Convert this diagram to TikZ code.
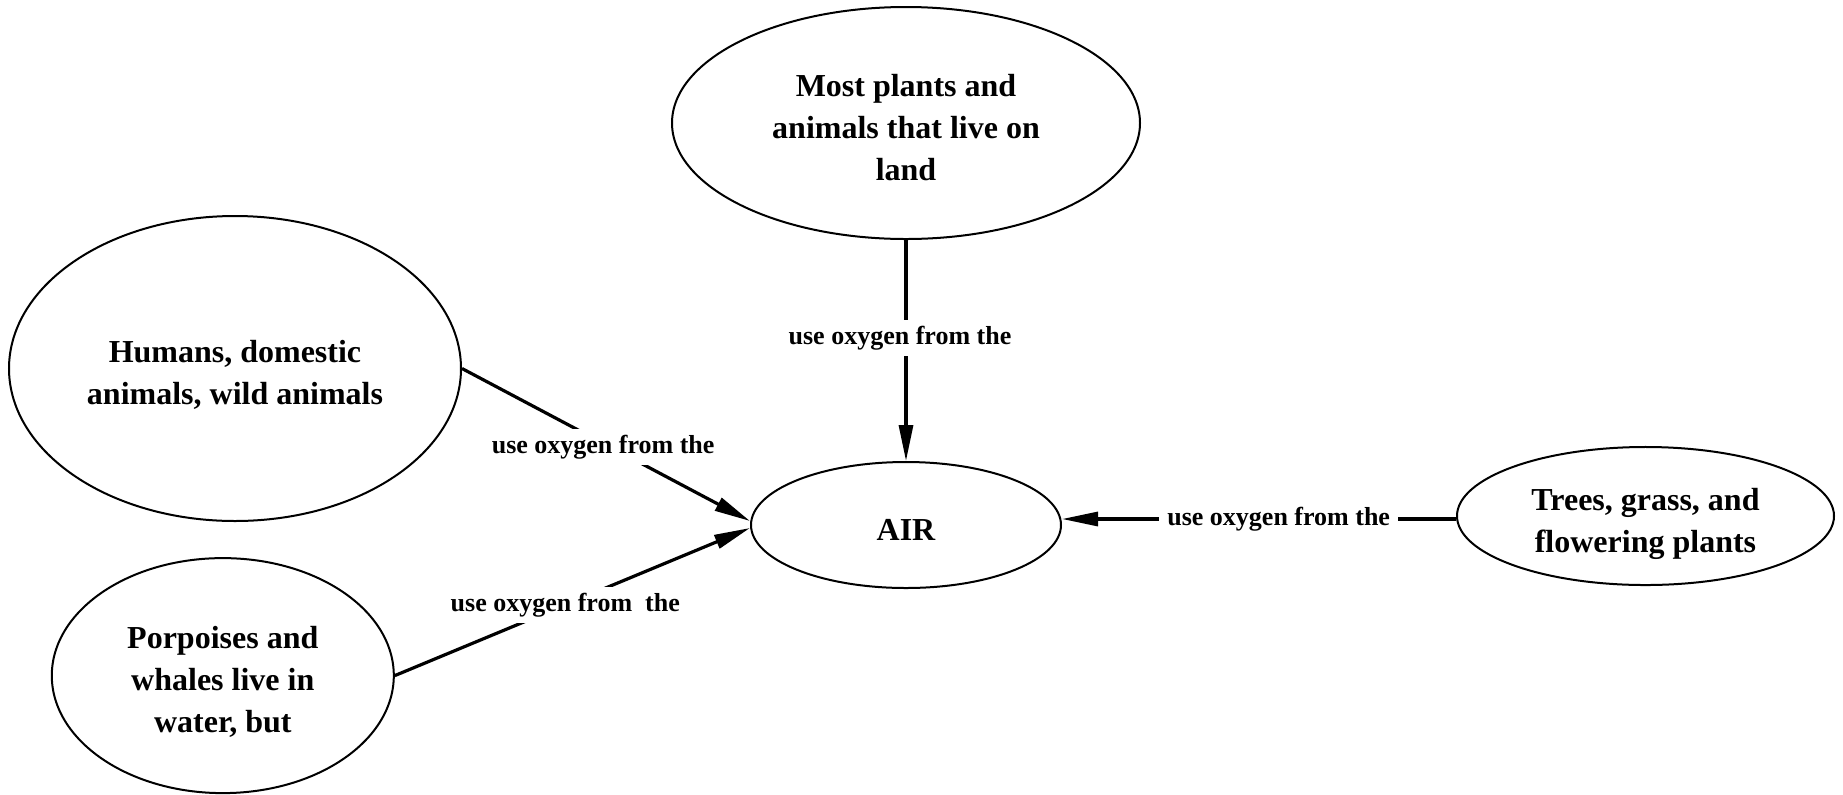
\documentclass[tikz,border=0pt]{standalone}
\usepackage{fontspec}
\setmainfont{Liberation Serif}
\usetikzlibrary{arrows.meta,shapes.geometric}
\newcommand\ctxt[1]{\begin{tabular}{@{}c@{}}\rule{0pt}{21.5pt}#1\end{tabular}}
\begin{document}
\begin{tikzpicture}[x=0.5pt,y=-0.5pt,
  concept/.style={ellipse, draw, line width=1pt, inner sep=0pt,
    font=\fontsize{16}{21}\selectfont\bfseries},
  link/.style={line width=1.6pt, -{Triangle[length=18pt,width=7pt]}},
  lbl/.style={fill=white, inner xsep=4pt, inner ysep=3pt,
    font=\fontsize{13}{15}\selectfont\bfseries}]
\useasboundingbox (0,0) rectangle (1843,794);

\node[concept, minimum width=234pt, minimum height=116pt] (land) at (906,123)
  {\ctxt{Most plants and\\animals that live on\\land}};
\node[concept, minimum width=226pt, minimum height=152.5pt] (humans) at (235,368.5)
  {\ctxt{Humans, domestic\\animals, wild animals}};
\node[concept, minimum width=171pt, minimum height=117.5pt] (porp) at (222.8,675.6)
  {\ctxt{Porpoises and\\whales live in\\water, but}};
\node[concept, minimum width=155pt, minimum height=63pt] (air) at (906,525)
  {\ctxt{AIR}};
\node[concept, minimum width=188.5pt, minimum height=67.5pt] (trees) at (1645.5,516)
  {\ctxt{Trees, grass, and\\flowering plants}};
\coordinate (tstart) at ([yshift=-1.5pt]trees.west);

\draw[link] (land.south) -- node[lbl, pos=0.43, xshift=-3pt, yshift=-1.5pt] {use oxygen from the} (air.north);
\draw[link] (humans.east) -- node[lbl, pos=0.49, yshift=-2pt] {use oxygen from the} ([yshift=2pt]air.west);
\draw[link] (porp.east) -- node[lbl, pos=0.48] {use oxygen from\ \ the} ([yshift=-1.5pt]air.west);
\draw[link] (tstart) -- node[lbl, pos=0.45] {use oxygen from the} (air.east |- tstart);
\end{tikzpicture}
\end{document}
